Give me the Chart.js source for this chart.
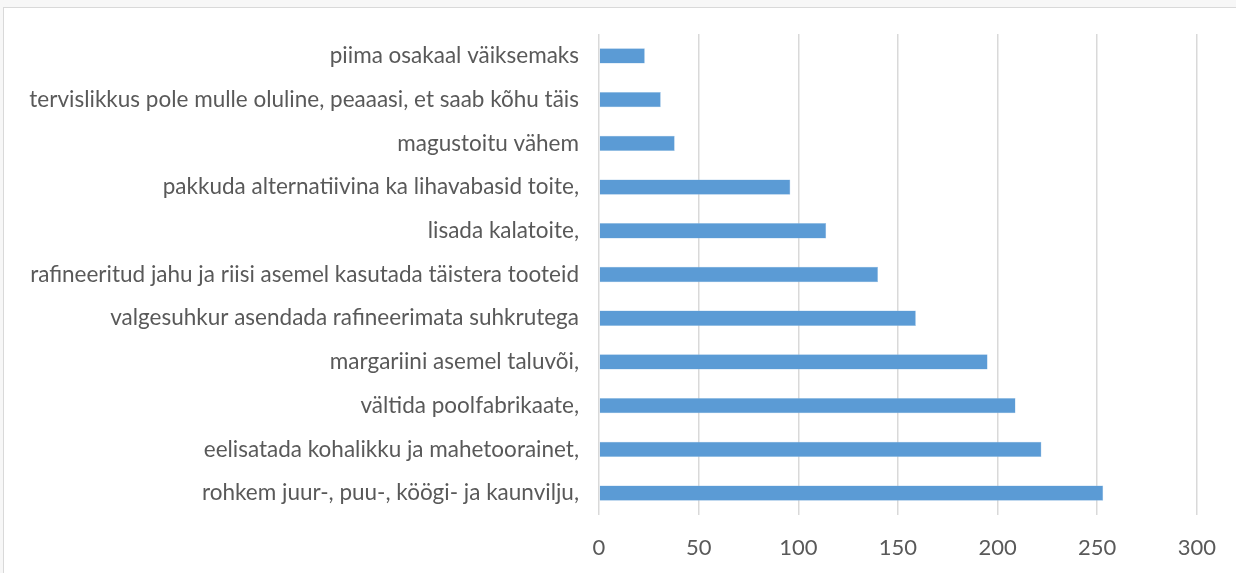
<!DOCTYPE html>
<html>
<head>
<meta charset="utf-8">
<script src="https://cdn.jsdelivr.net/npm/chart.js@4/dist/chart.umd.min.js"></script>
<style>
    html, body { margin: 0; padding: 0; background: #f7f7f7; overflow: hidden; }
    #frame {
        position: absolute; left: 3px; top: 7px; width: 1260px; height: 600px;
        background: #fff; border: 1px solid #d9d9d9;
    }
    #wrap { position: absolute; left: 0; top: 0; width: 1236px; height: 573px; }
</style>
</head>
<body>
<div id="frame"></div>
<div id="wrap"><canvas id="output"></canvas></div>
<script>
// kategooriad ülevalt alla
var categories = [
    "piima osakaal väiksemaks",
    "tervislikkus pole mulle oluline, peaaasi, et saab kõhu täis",
    "magustoitu vähem",
    "pakkuda alternatiivina ka lihavabasid toite,",
    "lisada kalatoite,",
    "rafineeritud jahu ja riisi asemel kasutada täistera tooteid",
    "valgesuhkur asendada rafineerimata suhkrutega",
    "margariini asemel taluvõi,",
    "vältida poolfabrikaate,",
    "eelisatada kohalikku ja mahetoorainet,",
    "rohkem juur-, puu-, köögi- ja kaunvilju,"
];
var values = [23, 31, 38, 96, 114, 140, 159, 195, 209, 222, 253];
var xTicks = [0, 50, 100, 150, 200, 250, 300];

// Lato ~ Calibri (Carlito põhineb Latol)
var fontFamily = "Lato, sans-serif";
var textColor = "#595959";

var canvas = document.getElementById("output");
var myChart = new Chart(canvas, {
    type: 'bar',
    data: {
        labels: categories,
        datasets: [{
            data: values,
            backgroundColor: '#5b9bd5',
            borderColor: '#9dc3e6',
            borderWidth: 0.5,
            barPercentage: 0.35,
            categoryPercentage: 1
        }]
    },
    options: {
        indexAxis: 'y',
        responsive: true,
        maintainAspectRatio: false,
        animation: false,
        layout: { padding: { top: 34, right: 33.5, left: 0, bottom: 0 } },
        plugins: {
            legend: { display: false },
            tooltip: { enabled: false }
        },
        scales: {
            x: {
                min: 0,
                max: 300,
                afterBuildTicks: function (scale) {
                    scale.ticks = xTicks.map(v => ({ value: v }));
                },
                afterFit: function (scale) { scale.height = 58; },
                grid: { color: '#d9d9d9', lineWidth: 1.5, drawTicks: false },
                border: { display: false },
                ticks: {
                    padding: 20,
                    color: textColor,
                    font: { family: fontFamily, size: 22 }
                }
            },
            y: {
                afterFit: function (scale) { scale.width = 599; },
                grid: { display: false },
                border: { display: false },
                ticks: {
                    padding: 12,
                    color: textColor,
                    font: { family: fontFamily, size: 22.5 }
                }
            }
        }
    }
});
</script>
</body>
</html>
